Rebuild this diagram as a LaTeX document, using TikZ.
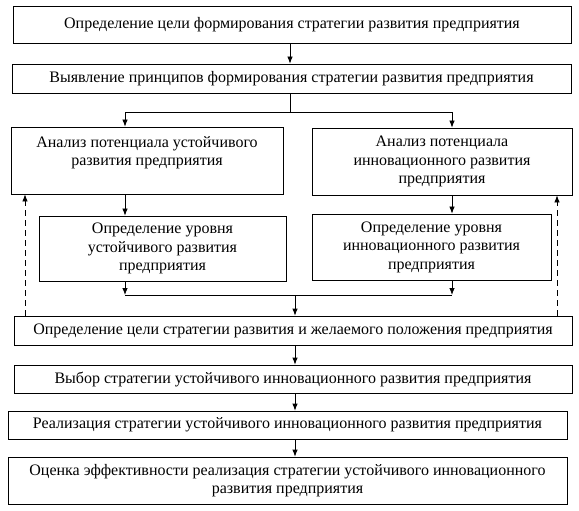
\documentclass[tikz,border=0pt]{standalone}
\usepackage{fontspec}
\setmainfont{Liberation Serif}
\usetikzlibrary{arrows.meta}
\begin{document}
\begin{tikzpicture}[x=1bp,y=-1bp,>={Latex[length=7bp,width=5.5bp]},line width=0.8bp,
  blk/.style={draw,inner sep=0pt,align=center,font=\fontsize{16bp}{18.5bp}\selectfont},
  fb/.style={dashed,dash pattern=on 6bp off 4bp}]
\useasboundingbox (0,0) rectangle (579,511);
%%
\node (goal) at (292,24.5) [blk,minimum width=558bp,minimum height=37bp] {Определение цели формирования стратегии развития предприятия};
  \node (princ) at (291.5,78.5) [blk,minimum width=559bp,minimum height=29bp] {Выявление принципов формирования стратегии развития предприятия};
  \node (anust) at (147,160.5) [blk,minimum width=272bp,minimum height=67bp] {Анализ потенциала устойчивого\\развития предприятия\\~};
  \node (aninn) at (442,161.5) [blk,minimum width=260bp,minimum height=67bp] {Анализ потенциала\\инновационного развития\\предприятия};
  \node (lvust) at (162.5,248.5) [blk,minimum width=247bp,minimum height=65bp] {Определение уровня\\устойчивого развития\\предприятия};
  \node (lvinn) at (431.5,247) [blk,minimum width=239bp,minimum height=66bp] {Определение уровня\\инновационного развития\\предприятия};
  \node (target) at (293,330.5) [blk,minimum width=558bp,minimum height=29bp] {Определение цели стратегии развития и желаемого положения предприятия};
  \node (choice) at (293,379) [blk,minimum width=558bp,minimum height=28bp] {Выбор стратегии устойчивого инновационного развития предприятия};
  \node (impl) at (287.5,425) [blk,minimum width=559bp,minimum height=28bp] {Реализация стратегии устойчивого инновационного развития предприятия};
  \node (eval) at (287.5,480.5) [blk,minimum width=559bp,minimum height=47bp] {Оценка эффективности реализация стратегии устойчивого инновационного\\развития предприятия};
%
  \coordinate (split) at (290,112);
  \coordinate (join) at (295,295);
  \draw [->] (290,0 |- goal.south) -- (290,0 |- princ.north);
  \draw (290,0 |- princ.south) -- (split);
  \draw [->] (split) -- (125,112) -- (125,0 |- anust.north);
  \draw [->] (split) -- (452,112) -- (452,0 |- aninn.north);
  \draw [->] (125,0 |- anust.south) -- (125,0 |- lvust.north);
  \draw [->] (452,0 |- aninn.south) -- (452,0 |- lvinn.north);
  \draw [->] (125,0 |- lvust.south) -- (125,295);
  \draw [->] (452,0 |- lvinn.south) -- (452,295);
  \draw (125,295) -- (452,295);
  \draw [->] (join) -- (295,0 |- target.north);
  \draw [->] (295,0 |- target.south) -- (295,0 |- choice.north);
  \draw [->] (295,0 |- choice.south) -- (295,0 |- impl.north);
  \draw [->] (295,0 |- impl.south) -- (295,0 |- eval.north);
  \draw [fb,->] (25,0 |- target.north) -- (25,0 |- anust.south);
  \draw [fb,->] (557,0 |- target.north) -- (557,0 |- aninn.south);
%
\end{tikzpicture}
\end{document}
